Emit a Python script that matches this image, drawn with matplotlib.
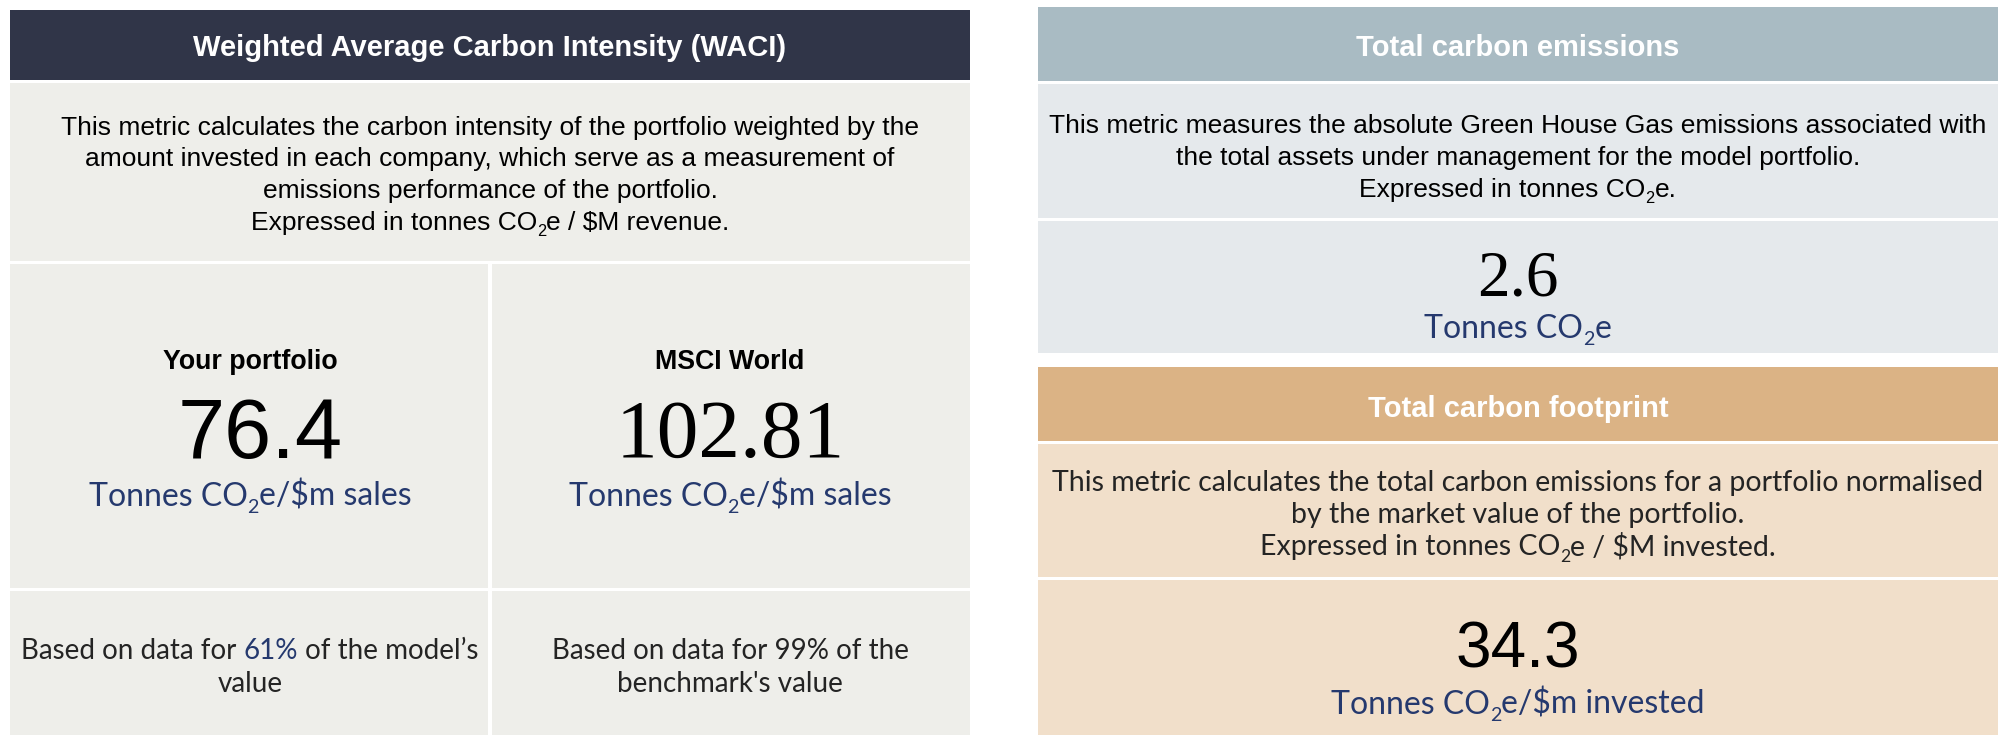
import matplotlib
matplotlib.use("Agg")
import matplotlib.pyplot as plt
from matplotlib.patches import Rectangle

# ---------------- data ----------------
panel_titles = ["Weighted Average Carbon Intensity (WACI)", "Total carbon emissions", "Total carbon footprint"]
waci_labels = ["Your portfolio", "MSCI World"]
waci_values = ["76.4", "102.81"]
coverage_pct = ["61%", "99%"]
total_emissions = "2.6"
total_footprint = "34.3"
waci_desc = ["This metric calculates the carbon intensity of the portfolio weighted by the",
             "amount invested in each company, which serve as a measurement of",
             "emissions performance of the portfolio."]
emis_desc = ["This metric measures the absolute Green House Gas emissions associated with",
             "the total assets under management for the model portfolio."]
foot_desc = ["This metric calculates the total carbon emissions for a portfolio normalised",
             "by the market value of the portfolio."]

# ---------------- styles ----------------
W, H = 2002, 735
NAVY_HEAD = "#303548"
LEFT_BODY = "#EEEEEA"
BLUE_HEAD = "#A9BBC3"
BLUE_BODY = "#E5E9EC"
ORANGE_HEAD = "#DBB385"
ORANGE_BODY = "#F1DFCA"
UNIT = "#25396E"
DARK = "#242424"
SANS = "Liberation Sans"
SERIF = "Liberation Serif"
THIN = "Lato"

fig = plt.figure(figsize=(W / 100, H / 100), dpi=100)
fig.patch.set_facecolor("#FFFFFF")
ax = fig.add_axes([0, 0, 1, 1])
ax.set_xlim(0, W)
ax.set_ylim(H, 0)
ax.axis("off")
renderer = fig.canvas.get_renderer()


def rect(x0, y0, x1, y1, c):
    ax.add_patch(Rectangle((x0, y0), x1 - x0, y1 - y0, facecolor=c, edgecolor="none"))


def width_of(s, **kw):
    t1 = ax.text(0, 0, "|" + s + "|", parse_math=False, **kw)
    t2 = ax.text(0, 0, "||", parse_math=False, **kw)
    w = t1.get_window_extent(renderer).width - t2.get_window_extent(renderer).width
    t1.remove()
    t2.remove()
    return w


def rich(xc, yc, segs, size, family, weight="normal", color="black"):
    """segs: list of (text, opts). yc = vertical centre of caps."""
    base = yc + 0.36 * size * 100 / 72
    items = []
    total = 0
    for s, opt in segs:
        sub = opt.get("sub", False)
        fs = size * 0.62 if sub else size
        kw = dict(fontsize=fs, family=family, weight=weight, color=opt.get("color", color))
        w = width_of(s, **kw)
        items.append((s, kw, w, sub))
        total += w
    x = xc - total / 2
    for s, kw, w, sub in items:
        dy = 0.25 * size * 100 / 72 if sub else 0
        ax.text(x, base + dy, s, ha="left", va="baseline", parse_math=False, **kw)
        x += w


def plain(xc, yc, s, size, family, weight="normal", color="black"):
    rich(xc, yc, [(s, {})], size, family, weight, color)


TITLE_FS = 21
DESC_FS = 19
UNIT_FS = 23
NOTE_FS = 20
FOOT_FS = 20.5

# ---------------- left panel (WACI) ----------------
L0, L1, LM = 10, 970, 490
rect(L0, 10, L1, 80, NAVY_HEAD)
rect(L0, 83, L1, 261, LEFT_BODY)
rect(L0, 264, LM - 2, 588, LEFT_BODY)
rect(LM + 2, 264, L1, 588, LEFT_BODY)
rect(L0, 591, LM - 2, H, LEFT_BODY)
rect(LM + 2, 591, L1, H, LEFT_BODY)

plain(LM, 45, panel_titles[0], TITLE_FS, SANS, "bold", "white")
for i, line in enumerate(waci_desc):
    plain(LM, 125 + 31.5 * i, line, DESC_FS, SANS)
rich(LM, 220, [("Expressed in tonnes CO", {}), ("2", {"sub": True}), ("e / $M revenue.", {})], DESC_FS, SANS)

cols = [(L0 + LM) / 2, (LM + L1) / 2]
num_fonts = [(SANS, 61), (SERIF, 60)]
for i in range(2):
    plain(cols[i], 359, waci_labels[i], 19.3, SANS, "bold")
    fam, fs = num_fonts[i]
    plain(cols[i] + (10 if i == 0 else 0), 427, waci_values[i], fs, fam)
    rich(cols[i], 494, [("Tonnes CO", {}), ("2", {"sub": True}), ("e/$m sales", {})], UNIT_FS, THIN, "normal", UNIT)

rich(cols[0], 649, [("Based on data for ", {}), (coverage_pct[0], {"color": UNIT}), (" of the model\u2019s", {})],
     NOTE_FS, THIN, "normal", DARK)
plain(cols[0], 682, "value", NOTE_FS, THIN, "normal", DARK)
plain(cols[1], 649, "Based on data for " + coverage_pct[1] + " of the", NOTE_FS, THIN, "normal", DARK)
plain(cols[1], 682, "benchmark's value", NOTE_FS, THIN, "normal", DARK)

# ---------------- right panels ----------------
R0, R1 = 1038, 1998
RC = (R0 + R1) / 2
rect(R0, 7, R1, 81, BLUE_HEAD)
rect(R0, 84, R1, 218, BLUE_BODY)
rect(R0, 221, R1, 353, BLUE_BODY)
plain(RC, 45, panel_titles[1], TITLE_FS, SANS, "bold", "white")
for i, line in enumerate(emis_desc):
    plain(RC, 123 + 32 * i, line, DESC_FS, SANS)
rich(RC, 187, [("Expressed in tonnes CO", {}), ("2", {"sub": True}), ("e.", {})], DESC_FS, SANS)
plain(RC, 272, total_emissions, 47, SERIF)
rich(RC, 326, [("Tonnes CO", {}), ("2", {"sub": True}), ("e", {})], UNIT_FS, THIN, "normal", UNIT)

rect(R0, 367, R1, 441, ORANGE_HEAD)
rect(R0, 444, R1, 577, ORANGE_BODY)
rect(R0, 580, R1, H, ORANGE_BODY)
plain(RC, 406, panel_titles[2], TITLE_FS, SANS, "bold", "white")
for i, line in enumerate(foot_desc):
    plain(RC, 481 + 32 * i, line, FOOT_FS, THIN, "normal", DARK)
rich(RC, 545, [("Expressed in tonnes CO", {}), ("2", {"sub": True}), ("e / $M invested.", {})], FOOT_FS, THIN, "normal", DARK)
plain(RC, 645, total_footprint, 46, SANS)
rich(RC, 702, [("Tonnes CO", {}), ("2", {"sub": True}), ("e/$m invested", {})], UNIT_FS, THIN, "normal", UNIT)

fig.savefig("out.png", dpi=100, facecolor=fig.get_facecolor())
